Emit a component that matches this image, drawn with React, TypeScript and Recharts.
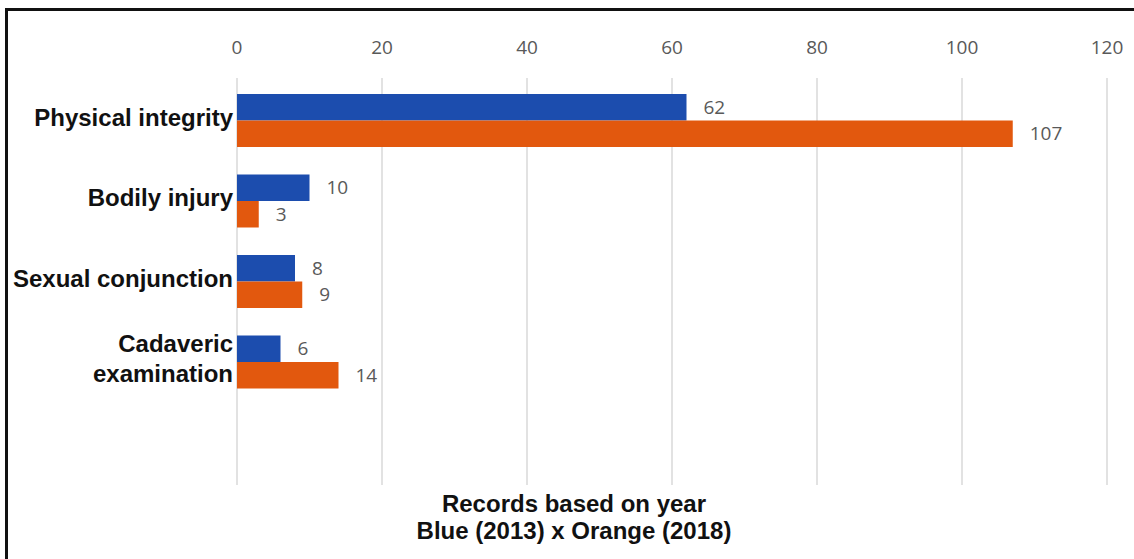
import React from 'react'
import { BarChart, Bar, XAxis, YAxis, CartesianGrid, LabelList } from 'recharts'

const categories = ['Physical integrity', 'Bodily injury', 'Sexual conjunction', 'Cadaveric examination']
const blue2013 = [62, 10, 8, 6]
const orange2018 = [107, 3, 9, 14]
const xTicks = [0, 20, 40, 60, 80, 100, 120]

const data = categories.map((name, i) => ({
  name,
  blue: blue2013[i],
  orange: orange2018[i],
}))

const boldFont = "'Liberation Sans', Arial, sans-serif"
const numFont = "'Open Sans', 'Noto Sans', sans-serif"

// long category names wrap onto two lines, like the original
function CategoryTick({ x, y, payload }: any) {
  const label: string = payload.value
  const lines = label.length > 20 ? label.split(' ') : [label]
  const lineHeight = 30
  const startDy = -((lines.length - 1) * lineHeight) / 2 + 5.5
  return (
    <text x={x} y={y} textAnchor="end" fill="#111" fontFamily={boldFont} fontWeight="bold" fontSize={24}>
      {lines.map((line, i) => (
        <tspan key={i} x={x} dy={i === 0 ? startDy : lineHeight}>
          {line}
        </tspan>
      ))}
    </text>
  )
}

export default function App() {
  return (
    <div style={{ position: 'absolute', left: 0, top: 0, width: 1134, height: 559, background: '#fff', overflow: 'hidden' }}>
      <div
        style={{
          position: 'absolute',
          left: 5,
          top: 8,
          width: 1140,
          height: 560,
          borderTop: '3px solid #111',
          borderLeft: '3px solid #111',
        }}
      />
      <BarChart
        layout="vertical"
        width={1134}
        height={559}
        data={data}
        margin={{ top: 48, right: 27, bottom: 74, left: 0 }}
        barSize={26.5}
        barGap={0}
      >
        <CartesianGrid horizontal={false} stroke="#d9d9d9" strokeWidth={1.5} />
        <XAxis
          type="number"
          orientation="top"
          domain={[0, 120]}
          ticks={xTicks}
          height={30}
          axisLine={false}
          tickLine={false}
          tickSize={0}
          tickMargin={24}
          tick={{ fill: '#595959', fontSize: 19, fontFamily: numFont }}
        />
        <YAxis
          type="category"
          dataKey="name"
          width={237}
          axisLine={false}
          tickLine={false}
          tickSize={0}
          tickMargin={4}
          padding={{ top: 2, bottom: 83 }}
          tick={<CategoryTick />}
        />
        <Bar dataKey="blue" fill="#1C4DAE" isAnimationActive={false}>
          <LabelList dataKey="blue" position="right" offset={17} fill="#595959" fontSize={19} fontFamily={numFont} />
        </Bar>
        <Bar dataKey="orange" fill="#E2580E" isAnimationActive={false}>
          <LabelList dataKey="orange" position="right" offset={17} fill="#595959" fontSize={19} fontFamily={numFont} />
        </Bar>
      </BarChart>
      <div
        style={{
          position: 'absolute',
          left: 374,
          top: 490,
          width: 400,
          textAlign: 'center',
          fontFamily: boldFont,
          fontWeight: 'bold',
          fontSize: 24,
          lineHeight: '27px',
          color: '#111',
        }}
      >
        <div>Records based on year</div>
        <div>Blue (2013) x Orange (2018)</div>
      </div>
    </div>
  )
}
